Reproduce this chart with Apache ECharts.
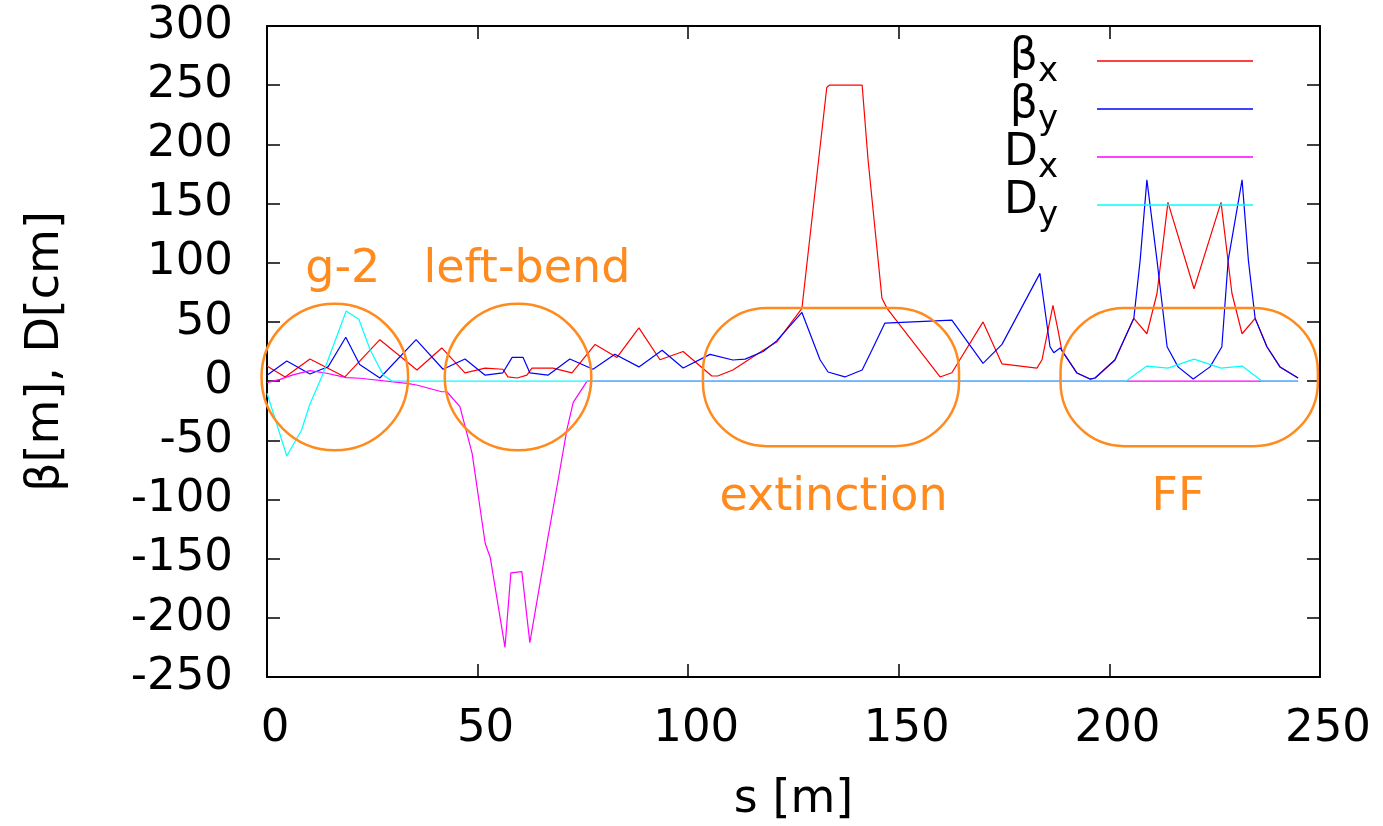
<!DOCTYPE html>
<html><head><meta charset="utf-8">
<script src="https://cdn.jsdelivr.net/npm/echarts@6/dist/echarts.min.js"></script>
<style>html,body{margin:0;padding:0;background:#fff}#c{width:1383px;height:826px}</style>
</head><body><div id="c"></div>
<script>
// ---- data ----
const seriesNames = ['βx', 'βy', 'Dx', 'Dy'];
const betaX = [[0,12.7],[4.3,3.5],[10.2,18.7],[18.5,3.5],[26.8,35],[35.6,9.4],[41.5,28],[47,7],[51.8,11],[56,10],[57.2,3.5],[59.4,2.6],[61.7,5],[62.9,11],[67.9,11],[72.4,7],[77.9,31],[83.1,20],[88.3,45],[93.3,18],[98.8,25],[105.6,4.3],[107,4.3],[110.6,9.4],[117.8,26],[121,33],[127,61.5],[132.9,248],[133.5,250],[141.3,250],[142.7,187],[146,70],[147.2,61.5],[159.8,3.5],[162.6,7],[170,50],[174.5,14.5],[182.8,11],[184,18],[186.6,64],[187.8,43],[188.7,26],[192.3,6.8],[195.4,1.7],[196.6,2.6],[201.3,17.8],[205.8,53],[208.9,40],[211.3,74],[213.9,151],[220.1,78],[226.5,151],[229.1,74],[231.5,40],[234.6,53],[237.4,29],[240.5,12],[244.8,2.6]];
const betaY = [[0,5],[4.7,17],[10.2,6],[13,10],[14.5,12],[18.7,37],[22,14],[26.8,2.6],[35.4,35],[41.8,10],[47,18.6],[51.8,5],[56,7],[58.2,20],[60.8,20],[62.4,7],[66.7,5],[71.9,18.6],[77.4,10],[82.6,22.6],[88.3,12],[93.8,26],[98.8,11],[105.2,22.6],[110.6,17.8],[113.5,18.6],[117.8,25],[121,34],[127,58],[131.3,18],[133.2,7.7],[137.2,3.5],[141.3,9.4],[143.6,26],[146.7,49],[162.6,51.5],[170,15],[174.5,31],[183.5,91],[185.9,29],[186.8,24],[188.3,28],[192.3,6.8],[195.4,1.7],[196.6,2.6],[201.3,17.8],[205.8,53],[207.3,102],[208.9,170],[211.3,102],[213.7,29],[216.3,12],[219.9,1.7],[223.9,12],[226.7,29],[228.2,102],[231.5,170],[233,102],[234.6,53],[237.4,29],[240.5,12],[244.8,2.6]];
const dispX = [[0,-1.3],[3.1,1.5],[6.2,5.2],[10.2,8.8],[14.2,6.6],[18.8,2.9],[22.1,2.4],[33.2,-1.9],[35.5,-3.3],[41.5,-9],[42.7,-9],[45.8,-21.6],[48.7,-61],[51.8,-137],[53,-149],[56.5,-225],[57.9,-162],[60.5,-161],[62.4,-221],[66.7,-132],[69.1,-84],[71.2,-41],[72.7,-18],[76,0],[244.8,0]];
const dispY = [[0,-10.3],[4.7,-63.3],[8.2,-41.3],[10.2,-19.4],[13,3.7],[18.8,59.2],[21.8,52.2],[24.5,26.3],[27.6,5.2],[29.6,0],[204,0],[208.9,12.7],[213.9,11],[220.1,18.6],[226.5,11],[231.5,12.7],[236.2,0],[244.8,0]];
// annotations (data units): circles [s, v, radius in s], boxes [s0, s1, v0, v1], notes [s, v, text]
const circles = [[16.1,3.4,17.4],[59.6,3.4,17.4]];
const boxes = [[103.5,164.3,-55,61.8],[188.4,249.5,-55,61.8]];
const notes = [[18,94,'g-2'],[61.7,94,'left-bend'],[134.5,-99,'extinction'],[216.3,-99,'FF']];
const xRange = [0, 250, 50];
const yRange = [-250, 300, 50];

// ---- style ----
const FONT = '"DejaVu Sans", sans-serif';
const ORANGE = '#ff8a1e';
const COLORS = ['#ff0000', '#0000ff', '#ff00ff', '#00ffff'];

const chart = echarts.init(document.getElementById('c'), null, {renderer: 'canvas'});
const axisLine = {show: true, onZero: false, lineStyle: {color: '#000', width: 2}};
const axisTick = {show: true, inside: true, length: 13, lineStyle: {color: '#000', width: 1.5}};

const lineSeries = [betaX, betaY, dispX, dispY].map((d, i) => ({
  name: seriesNames[i], type: 'line', data: d, symbol: 'none', showSymbol: false,
  lineStyle: {color: COLORS[i], width: 1.2}, itemStyle: {color: COLORS[i]},
  z: 2 + i, silent: true
}));

chart.setOption({
  animation: false,
  backgroundColor: '#fff',
  grid: {left: 267, right: 63, top: 26, bottom: 149, containLabel: false, outerBoundsMode: 'none'},
  legend: {
    data: seriesNames, orient: 'vertical', right: 130, top: 33, align: 'right', padding: 0,
    icon: 'rect', itemWidth: 156, itemHeight: 1.5, itemGap: -8,
    formatter: n => `{g|${n[0]}}{s|${n.slice(1)}}`,
    textStyle: {color: '#000', fontFamily: FONT, fontSize: 44, rich: {
      g: {fontSize: 44, lineHeight: 44, padding: [3, 0, 9, 0], fontFamily: FONT, color: '#000'},
      s: {fontSize: 34, lineHeight: 34, padding: [22, 34, 0, 0], fontFamily: FONT, color: '#000'}
    }}
  },
  xAxis: [
    {type: 'value', position: 'bottom', min: xRange[0], max: xRange[1], interval: xRange[2],
     axisLine, axisTick, splitLine: {show: false},
     axisLabel: {fontSize: 45, fontFamily: FONT, color: '#000', margin: 30, padding: [0, 0, 0, 16]},
     name: 's [m]', nameLocation: 'middle', nameGap: 100,
     nameTextStyle: {fontSize: 46, fontFamily: FONT, color: '#000'}},
    {type: 'value', position: 'top', min: xRange[0], max: xRange[1], interval: xRange[2],
     axisLine, axisTick, splitLine: {show: false}, axisLabel: {show: false}}
  ],
  yAxis: [
    {type: 'value', position: 'left', min: yRange[0], max: yRange[1], interval: yRange[2],
     axisLine, axisTick, splitLine: {show: false},
     axisLabel: {fontSize: 45, fontFamily: FONT, color: '#000', margin: 34},
     name: 'β[m], D[cm]', nameLocation: 'middle', nameGap: 198,
     nameTextStyle: {fontSize: 46, fontFamily: FONT, color: '#000'}},
    {type: 'value', position: 'right', min: yRange[0], max: yRange[1], interval: yRange[2],
     axisLine, axisTick, splitLine: {show: false}, axisLabel: {show: false}}
  ],
  series: lineSeries.concat([
    {type: 'custom', name: 'circles', data: circles, encode: {x: 0, y: 1}, clip: false, z: 10, silent: true,
     renderItem: (params, api) => {
       const c = api.coord([api.value(0), api.value(1)]);
       const r = api.size([api.value(2), 0])[0];
       return {type: 'circle', shape: {cx: c[0], cy: c[1], r: r},
               style: {fill: 'none', stroke: ORANGE, lineWidth: 2.5}};
     }},
    {type: 'custom', name: 'boxes', data: boxes, encode: {x: [0, 1], y: [2, 3]}, clip: false, z: 10, silent: true,
     renderItem: (params, api) => {
       const p0 = api.coord([api.value(0), api.value(3)]);
       const p1 = api.coord([api.value(1), api.value(2)]);
       return {type: 'rect', shape: {x: p0[0], y: p0[1], width: p1[0] - p0[0], height: p1[1] - p0[1], r: 64},
               style: {fill: 'none', stroke: ORANGE, lineWidth: 2.5}};
     }},
    {type: 'custom', name: 'notes', data: notes.map(n => [n[0], n[1]]), encode: {x: 0, y: 1}, clip: false, z: 10, silent: true,
     renderItem: (params, api) => {
       const c = api.coord([api.value(0), api.value(1)]);
       return {type: 'text', x: c[0], y: c[1],
               style: {text: notes[params.dataIndex][2], fill: ORANGE, fontSize: 46, fontFamily: FONT,
                       align: 'center', verticalAlign: 'middle'}};
     }}
  ])
});
</script></body></html>
